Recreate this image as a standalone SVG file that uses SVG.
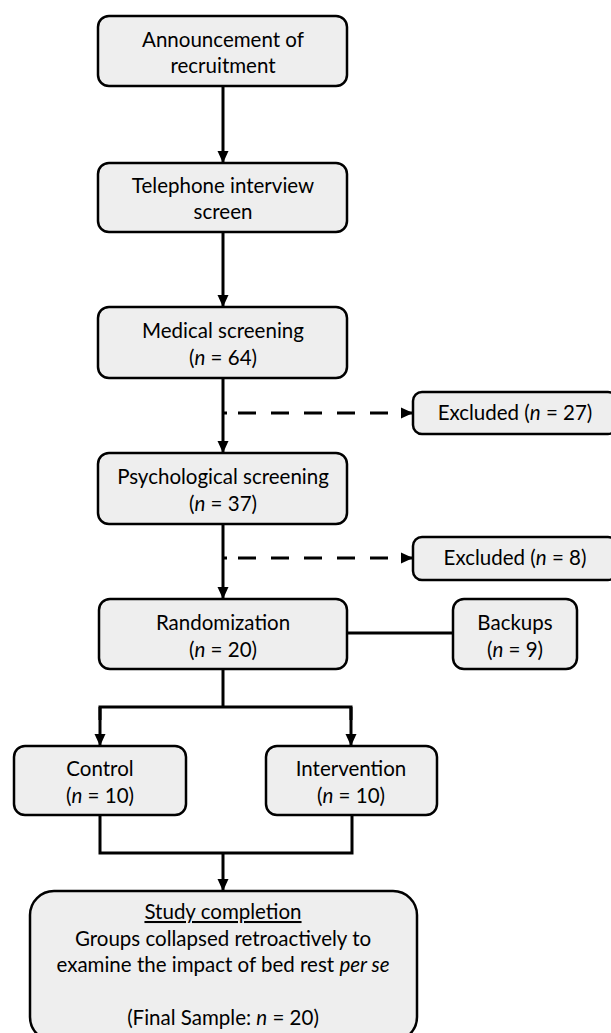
<svg xmlns="http://www.w3.org/2000/svg" width="611" height="1033" viewBox="0 0 611 1033">
<style>
.box{fill:#eeeeee;stroke:#000;stroke-width:2.5}
.t{font-family:Lato,"Liberation Sans",sans-serif;font-size:20.5px;fill:#000;text-anchor:middle}
.i{font-style:italic}
.ln{fill:none;stroke:#000;stroke-width:3}
.dl{fill:none;stroke:#000;stroke-width:3;stroke-dasharray:18 15}
</style>
<defs>
<marker id="ah" markerUnits="userSpaceOnUse" markerWidth="13" markerHeight="13" refX="12" refY="6.5" orient="auto">
<path d="M0,1 L12,6.5 L0,12 z" fill="#000"/>
</marker>
</defs>
<rect width="611" height="1033" fill="#fff"/>
<g id="connectors">
<line class="ln" x1="223" y1="86" x2="223" y2="163" marker-end="url(#ah)"/>
<line class="ln" x1="223" y1="232" x2="223" y2="307" marker-end="url(#ah)"/>
<line class="ln" x1="223" y1="378" x2="223" y2="453" marker-end="url(#ah)"/>
<line class="ln" x1="223" y1="524" x2="223" y2="599" marker-end="url(#ah)"/>
<line class="ln" x1="223" y1="413" x2="227" y2="413"/>
<line class="dl" x1="238" y1="413" x2="413" y2="413" marker-end="url(#ah)"/>
<line class="ln" x1="223" y1="558" x2="227" y2="558"/>
<line class="dl" x1="238" y1="558" x2="413" y2="558" marker-end="url(#ah)"/>
<line class="ln" x1="347" y1="633" x2="453" y2="633"/>
<polyline class="ln" points="223,669 223,707"/>
<polyline class="ln" points="100,720 100,707 351,707 351,720"/>
<line class="ln" x1="100" y1="707" x2="100" y2="746" marker-end="url(#ah)"/>
<line class="ln" x1="351" y1="707" x2="351" y2="746" marker-end="url(#ah)"/>
<polyline class="ln" points="100,815 100,853 352,853 352,815"/>
<line class="ln" x1="223" y1="853" x2="223" y2="891" marker-end="url(#ah)"/>
</g>
<g id="announcement">
<rect class="box" x="98" y="16" width="249" height="70" rx="11"/>
<text class="t" x="223" y="47">Announcement of</text>
<text class="t" x="223" y="73">recruitment</text>
</g>
<g id="telephone">
<rect class="box" x="98" y="163" width="249" height="69" rx="11"/>
<text class="t" x="223" y="193">Telephone interview</text>
<text class="t" x="223" y="219">screen</text>
</g>
<g id="medical">
<rect class="box" x="98" y="307" width="249" height="71" rx="11"/>
<text class="t" x="223" y="338">Medical screening</text>
<text class="t" x="223" y="365">(<tspan class="i">n</tspan> = 64)</text>
</g>
<g id="excluded1">
<rect class="box" x="413" y="392" width="204" height="42" rx="9"/>
<text class="t" x="515" y="420">Excluded (<tspan class="i">n</tspan> = 27)</text>
</g>
<g id="psychological">
<rect class="box" x="98" y="453" width="249" height="71" rx="11"/>
<text class="t" x="223" y="484">Psychological screening</text>
<text class="t" x="223" y="511">(<tspan class="i">n</tspan> = 37)</text>
</g>
<g id="excluded2">
<rect class="box" x="413" y="537" width="204" height="43" rx="9"/>
<text class="t" x="515" y="565">Excluded (<tspan class="i">n</tspan> = 8)</text>
</g>
<g id="randomization">
<rect class="box" x="99" y="599" width="248" height="70" rx="11"/>
<text class="t" x="223" y="630">Randomization</text>
<text class="t" x="223" y="657">(<tspan class="i">n</tspan> = 20)</text>
</g>
<g id="backups">
<rect class="box" x="453" y="599" width="124" height="70" rx="11"/>
<text class="t" x="515" y="630">Backups</text>
<text class="t" x="515" y="657">(<tspan class="i">n</tspan> = 9)</text>
</g>
<g id="control">
<rect class="box" x="14" y="746" width="172" height="69" rx="11"/>
<text class="t" x="100" y="776">Control</text>
<text class="t" x="100" y="803">(<tspan class="i">n</tspan> = 10)</text>
</g>
<g id="intervention">
<rect class="box" x="266" y="746" width="171" height="69" rx="11"/>
<text class="t" x="351" y="776">Intervention</text>
<text class="t" x="351" y="803">(<tspan class="i">n</tspan> = 10)</text>
</g>
<g id="completion">
<rect class="box" x="30" y="891" width="387" height="150" rx="24"/>
<text class="t" x="223" y="919" text-decoration="underline">Study completion</text>
<text class="t" x="223" y="946">Groups collapsed retroactively to</text>
<text class="t" x="223" y="972">examine the impact of bed rest <tspan class="i">per se</tspan></text>
<text class="t" x="223" y="1025">(Final Sample: <tspan class="i">n</tspan> = 20)</text>
</g>
</svg>
